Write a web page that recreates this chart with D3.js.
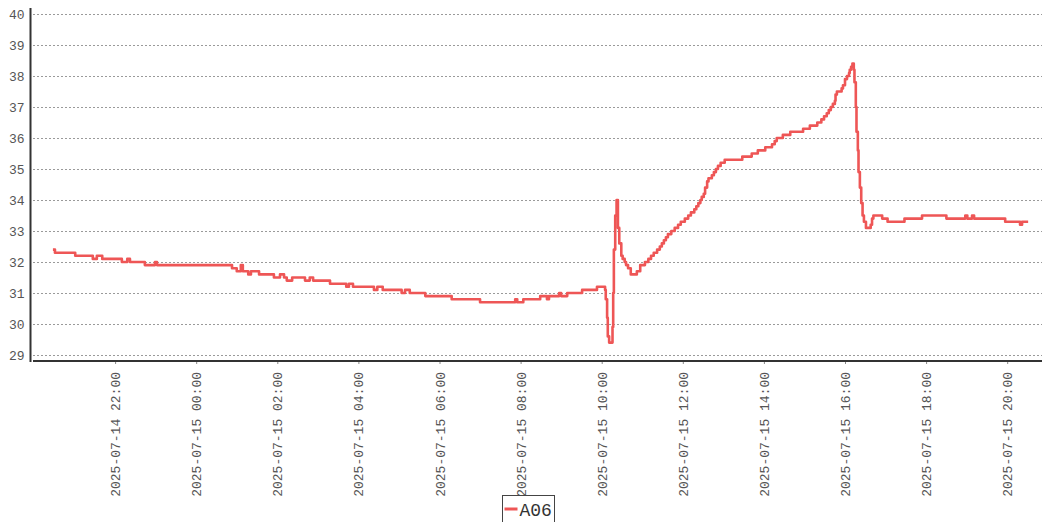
<!DOCTYPE html>
<html>
<head>
<meta charset="utf-8">
<script src="https://cdn.jsdelivr.net/npm/d3@7"></script>
<style>
  body { margin: 0; background: #fff; }
  text { font-family: "Liberation Mono", monospace; }
</style>
</head>
<body>
<div class="canvas"></div>
<script>
const seriesName = 'A06'

// change points of the A06 reading (time, value)
const times = [
    '2025-07-14 20:28', '2025-07-14 20:31', '2025-07-14 21:01', '2025-07-14 21:27', '2025-07-14 21:33',
    '2025-07-14 21:41', '2025-07-14 22:10', '2025-07-14 22:18', '2025-07-14 22:22', '2025-07-14 22:44',
    '2025-07-14 22:59', '2025-07-14 23:02', '2025-07-15 00:53', '2025-07-15 01:00', '2025-07-15 01:06',
    '2025-07-15 01:09', '2025-07-15 01:17', '2025-07-15 01:21', '2025-07-15 01:33', '2025-07-15 01:55',
    '2025-07-15 02:04', '2025-07-15 02:10', '2025-07-15 02:14', '2025-07-15 02:22', '2025-07-15 02:41',
    '2025-07-15 02:48', '2025-07-15 02:53', '2025-07-15 03:18', '2025-07-15 03:42', '2025-07-15 03:46',
    '2025-07-15 03:52', '2025-07-15 04:23', '2025-07-15 04:28', '2025-07-15 04:36', '2025-07-15 05:04',
    '2025-07-15 05:09', '2025-07-15 05:16', '2025-07-15 05:39', '2025-07-15 06:18', '2025-07-15 07:00',
    '2025-07-15 07:52', '2025-07-15 07:55', '2025-07-15 08:04', '2025-07-15 08:29', '2025-07-15 08:39',
    '2025-07-15 08:42', '2025-07-15 08:57', '2025-07-15 09:00', '2025-07-15 09:09', '2025-07-15 09:31',
    '2025-07-15 09:53', '2025-07-15 10:05', '2025-07-15 10:06', '2025-07-15 10:08', '2025-07-15 10:09',
    '2025-07-15 10:11', '2025-07-15 10:16', '2025-07-15 10:17', '2025-07-15 10:18', '2025-07-15 10:20',
    '2025-07-15 10:22', '2025-07-15 10:24', '2025-07-15 10:26', '2025-07-15 10:29', '2025-07-15 10:31',
    '2025-07-15 10:34', '2025-07-15 10:36', '2025-07-15 10:39', '2025-07-15 10:43', '2025-07-15 10:52',
    '2025-07-15 10:57', '2025-07-15 11:04', '2025-07-15 11:09', '2025-07-15 11:13', '2025-07-15 11:17',
    '2025-07-15 11:22', '2025-07-15 11:26', '2025-07-15 11:29', '2025-07-15 11:32', '2025-07-15 11:35',
    '2025-07-15 11:38', '2025-07-15 11:43', '2025-07-15 11:48', '2025-07-15 11:53', '2025-07-15 11:57',
    '2025-07-15 12:03', '2025-07-15 12:08', '2025-07-15 12:12', '2025-07-15 12:17', '2025-07-15 12:20',
    '2025-07-15 12:23', '2025-07-15 12:26', '2025-07-15 12:28', '2025-07-15 12:31', '2025-07-15 12:33',
    '2025-07-15 12:36', '2025-07-15 12:38', '2025-07-15 12:43', '2025-07-15 12:46', '2025-07-15 12:49',
    '2025-07-15 12:52', '2025-07-15 12:56', '2025-07-15 13:02', '2025-07-15 13:28', '2025-07-15 13:42',
    '2025-07-15 13:51', '2025-07-15 14:02', '2025-07-15 14:12', '2025-07-15 14:16', '2025-07-15 14:19',
    '2025-07-15 14:28', '2025-07-15 14:39', '2025-07-15 14:58', '2025-07-15 15:08', '2025-07-15 15:19',
    '2025-07-15 15:25', '2025-07-15 15:29', '2025-07-15 15:33', '2025-07-15 15:36', '2025-07-15 15:39',
    '2025-07-15 15:42', '2025-07-15 15:45', '2025-07-15 15:46', '2025-07-15 15:48', '2025-07-15 15:55',
    '2025-07-15 15:57', '2025-07-15 16:00', '2025-07-15 16:03', '2025-07-15 16:06', '2025-07-15 16:07',
    '2025-07-15 16:09', '2025-07-15 16:11', '2025-07-15 16:13', '2025-07-15 16:14', '2025-07-15 16:16',
    '2025-07-15 16:17', '2025-07-15 16:19', '2025-07-15 16:20', '2025-07-15 16:22', '2025-07-15 16:24',
    '2025-07-15 16:26', '2025-07-15 16:28', '2025-07-15 16:31', '2025-07-15 16:38', '2025-07-15 16:40',
    '2025-07-15 16:42', '2025-07-15 16:55', '2025-07-15 17:03', '2025-07-15 17:28', '2025-07-15 17:54',
    '2025-07-15 18:30', '2025-07-15 18:58', '2025-07-15 19:01', '2025-07-15 19:08', '2025-07-15 19:11',
    '2025-07-15 19:57', '2025-07-15 20:19', '2025-07-15 20:22', '2025-07-15 20:31'
]
const values = [
    32.4, 32.3, 32.2, 32.1, 32.2,
    32.1, 32.0, 32.1, 32.0, 31.9,
    32.0, 31.9, 31.8, 31.7, 31.9,
    31.7, 31.6, 31.7, 31.6, 31.5,
    31.6, 31.5, 31.4, 31.5, 31.4,
    31.5, 31.4, 31.3, 31.2, 31.3,
    31.2, 31.1, 31.2, 31.1, 31.0,
    31.1, 31.0, 30.9, 30.8, 30.7,
    30.8, 30.7, 30.8, 30.9, 30.8,
    30.9, 31.0, 30.9, 31.0, 31.1,
    31.2, 31.1, 30.8, 30.2, 29.6,
    29.4, 29.9, 31.0, 32.4, 33.5,
    34.0, 33.1, 32.6, 32.2, 32.1,
    32.0, 31.9, 31.8, 31.6, 31.7,
    31.9, 32.0, 32.1, 32.2, 32.3,
    32.4, 32.5, 32.6, 32.7, 32.8,
    32.9, 33.0, 33.1, 33.2, 33.3,
    33.4, 33.5, 33.6, 33.7, 33.8,
    33.9, 34.0, 34.1, 34.2, 34.4,
    34.6, 34.7, 34.8, 34.9, 35.0,
    35.1, 35.2, 35.3, 35.4, 35.5,
    35.6, 35.7, 35.8, 35.9, 36.0,
    36.1, 36.2, 36.3, 36.4, 36.5,
    36.6, 36.7, 36.8, 36.9, 37.0,
    37.1, 37.2, 37.4, 37.5, 37.6,
    37.7, 37.9, 38.0, 38.1, 38.2,
    38.3, 38.4, 38.2, 37.8, 37.0,
    36.2, 35.6, 34.9, 34.4, 33.9,
    33.5, 33.3, 33.1, 33.2, 33.4,
    33.5, 33.4, 33.3, 33.4, 33.5,
    33.4, 33.5, 33.4, 33.5, 33.4,
    33.3, 33.2, 33.3, 33.3
]

const xTicks = [
    '2025-07-14 22:00', '2025-07-15 00:00', '2025-07-15 02:00', '2025-07-15 04:00',
    '2025-07-15 06:00', '2025-07-15 08:00', '2025-07-15 10:00', '2025-07-15 12:00',
    '2025-07-15 14:00', '2025-07-15 16:00', '2025-07-15 18:00', '2025-07-15 20:00'
]
const yTicks = [29, 30, 31, 32, 33, 34, 35, 36, 37, 38, 39, 40]
const xDomain = ['2025-07-14 20:00', '2025-07-15 21:00']

const dims = { width: 1042, height: 522 }
const parse = d3.timeParse('%Y-%m-%d %H:%M')
const data = times.map((t, i) => ({ t: parse(t), v: values[i] }))

const svg = d3.select('.canvas')
    .append('svg')
    .attr('width', dims.width)
    .attr('height', dims.height)
    .style('display', 'block')

const x = d3.scaleTime()
    .domain(xDomain.map(parse))
    .range([34, 1047.75])

const y = d3.scaleLinear()
    .domain([29, 40])
    .range([355, 14])

// horizontal dashed grid
svg.append('g')
    .selectAll('line')
    .data(yTicks)
    .enter()
    .append('line')
    .attr('x1', 33)
    .attr('x2', dims.width)
    .attr('y1', d => Math.round(y(d)) + 0.5)
    .attr('y2', d => Math.round(y(d)) + 0.5)
    .attr('stroke', '#9a9a9a')
    .attr('stroke-width', 1)
    .attr('stroke-dasharray', '2,2')

// y axis
const yAxis = svg.append('g')
    .attr('transform', 'translate(30.5, 0)')
    .call(d3.axisLeft(y).tickValues(yTicks).tickSize(0).tickPadding(6))
yAxis.select('.domain').remove()
yAxis.selectAll('text')
    .attr('font-size', 13)
    .attr('fill', '#555')
svg.append('line')
    .attr('x1', 30.5).attr('x2', 30.5)
    .attr('y1', 8).attr('y2', 362)
    .attr('stroke', '#333')
    .attr('stroke-width', 2)

// x axis
const xAxis = svg.append('g')
    .attr('transform', 'translate(0, 361)')
    .call(d3.axisBottom(x)
        .tickValues(xTicks.map(parse))
        .tickSize(3)
        .tickFormat(d3.timeFormat('%Y-%m-%d %H:%M')))
xAxis.select('.domain').remove()
xAxis.selectAll('.tick line').attr('stroke', '#888')
xAxis.selectAll('text')
    .attr('font-size', 13)
    .attr('fill', '#555')
    .attr('transform', 'rotate(-90)')
    .attr('text-anchor', 'end')
    .attr('x', -11)
    .attr('y', 0)
    .attr('dy', '0.35em')
svg.append('line')
    .attr('x1', 33).attr('x2', dims.width)
    .attr('y1', 361).attr('y2', 361)
    .attr('stroke', '#333')
    .attr('stroke-width', 2)

// the series line
const line = d3.line()
    .x(d => x(d.t))
    .y(d => y(d.v))
    .curve(d3.curveStepAfter)

svg.append('path')
    .datum(data)
    .attr('d', line)
    .attr('fill', 'none')
    .attr('stroke', '#ee5656')
    .attr('stroke-width', 2.6)
    .attr('stroke-linejoin', 'round')

// legend
const legend = svg.append('g').attr('transform', 'translate(502.5, 495.5)')
legend.append('rect')
    .attr('width', 52)
    .attr('height', 40)
    .attr('fill', '#fff')
    .attr('stroke', '#444')
legend.append('line')
    .attr('x1', 2).attr('x2', 15)
    .attr('y1', 13.5).attr('y2', 13.5)
    .attr('stroke', '#ee5656')
    .attr('stroke-width', 3)
legend.append('text')
    .attr('x', 17)
    .attr('y', 20)
    .attr('font-size', 18)
    .attr('fill', '#333')
    .text(seriesName)
</script>
</body>
</html>
